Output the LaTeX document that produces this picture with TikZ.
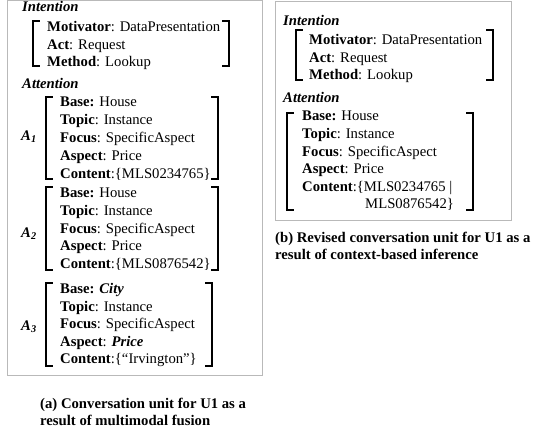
\documentclass[tikz,border=0pt]{standalone}
\usepackage{fontspec}
\setmainfont{Liberation Serif}
\usetikzlibrary{positioning}

% a pair of square brackets: left x, right x, top, bottom
\newcommand{\unitbracket}[4]{%
  \draw[brk] (#1+6,#3) -- (#1,#3) -- (#1,#4) -- (#1+6,#4);
  \draw[brk] (#2-6,#3) -- (#2,#3) -- (#2,#4) -- (#2-6,#4);}

\tikzset{
  brk/.style={line width=1.4pt, line cap=rect},
  unitbox/.style={draw=gray!55, line width=0.8pt},
  heading/.style={font=\fontsize{14.7}{17.5}\selectfont\bfseries\itshape},
  caption/.style={font=\fontsize{14.7}{17.5}\selectfont\bfseries}
}

\begin{document}
\begin{tikzpicture}[x=1pt,y=-1pt]
    \useasboundingbox (0,0) rectangle (536,431);

    % the two frames
    \draw[unitbox] (7,0.5) rectangle (262,375);
    \draw[unitbox] (275,1) rectangle (511,220);

    % Left unit (a), use the tuple for location
    \begin{scope}[every node/.style={anchor=base west,inner sep=0pt,
                  font=\fontsize{14.7}{17.5}\selectfont}]
    \node[heading] (intA) at (22,12) {Intention};
    \node (motA) at (47,31) {\textbf{Motivator}: DataPresentation};
    \node (actA) at (47,49) {\textbf{Act}: Request};
    \node (metA) at (47,66) {\textbf{Method}: Lookup};
    \node[heading] (attA) at (22,88) {Attention};

    \node (baseA1) at (60,106) {\textbf{Base:} House};
    \node (topA1) at (60,124) {\textbf{Topic}: Instance};
    \node (focA1) at (60,142) {\textbf{Focus}: SpecificAspect};
    \node (aspA1) at (60,160) {\textbf{Aspect}: Price};
    \node (conA1) at (60,178) {\textbf{Content}:\{MLS0234765\}};

    \node (baseA2) at (60,197) {\textbf{Base:} House};
    \node (topA2) at (60,215) {\textbf{Topic}: Instance};
    \node (focA2) at (60,233) {\textbf{Focus}: SpecificAspect};
    \node (aspA2) at (60,250) {\textbf{Aspect}: Price};
    \node (conA2) at (60,268) {\textbf{Content}:\{MLS0876542\}};

    \node (baseA3) at (60,293) {\textbf{Base: \textit{City}}};
    \node (topA3) at (60,311) {\textbf{Topic}: Instance};
    \node (focA3) at (60,328) {\textbf{Focus}: SpecificAspect};
    \node (aspA3) at (60,346) {\textbf{Aspect}: \textbf{\textit{Price}}};
    \node (conA3) at (60,363) {\textbf{Content}:\{“Irvington”\}};

    \node[anchor=west] (labA1) at (21,137) {\textbf{\textit{A\textsubscript{1}}}};
    \node[anchor=west] (labA2) at (21,234) {\textbf{\textit{A\textsubscript{2}}}};
    \node[anchor=west] (labA3) at (21,327) {\textbf{\textit{A\textsubscript{3}}}};

    \node[caption] (capA1) at (40,408) {(a) Conversation unit for U1 as a};
    \node[caption] (capA2) at (40,425) {result of multimodal fusion};
    \end{scope}

    % Right unit (b)
    \begin{scope}[every node/.style={anchor=base west,inner sep=0pt,
                  font=\fontsize{14.7}{17.5}\selectfont}]
    \node[heading] (intB) at (283,25) {Intention};
    \node (motB) at (309,44) {\textbf{Motivator}: DataPresentation};
    \node (actB) at (309,62) {\textbf{Act}: Request};
    \node (metB) at (309,79) {\textbf{Method}: Lookup};
    \node[heading] (attB) at (283,102) {Attention};

    \node (baseB) at (302,120) {\textbf{Base:} House};
    \node (topB) at (302,138) {\textbf{Topic}: Instance};
    \node (focB) at (302,156) {\textbf{Focus}: SpecificAspect};
    \node (aspB) at (302,173) {\textbf{Aspect}: Price};
    \node (conB) at (302,191) {\textbf{Content}:\{MLS0234765 |};
    \node (conB2) at (365,208) {MLS0876542\}};

    \node[caption] (capB1) at (275,242) {(b) Revised conversation unit for U1 as a};
    \node[caption] (capB2) at (275,259) {result of context-based inference};
    \end{scope}

    % brackets
    \unitbracket{33}{229}{21}{66}
    \unitbracket{46}{218}{97}{179}
    \unitbracket{46}{218}{187}{270}
    \unitbracket{46}{212}{283}{366}
    \unitbracket{296}{493}{30}{80}
    \unitbracket{287}{473}{113}{210}

\end{tikzpicture}
\end{document}
